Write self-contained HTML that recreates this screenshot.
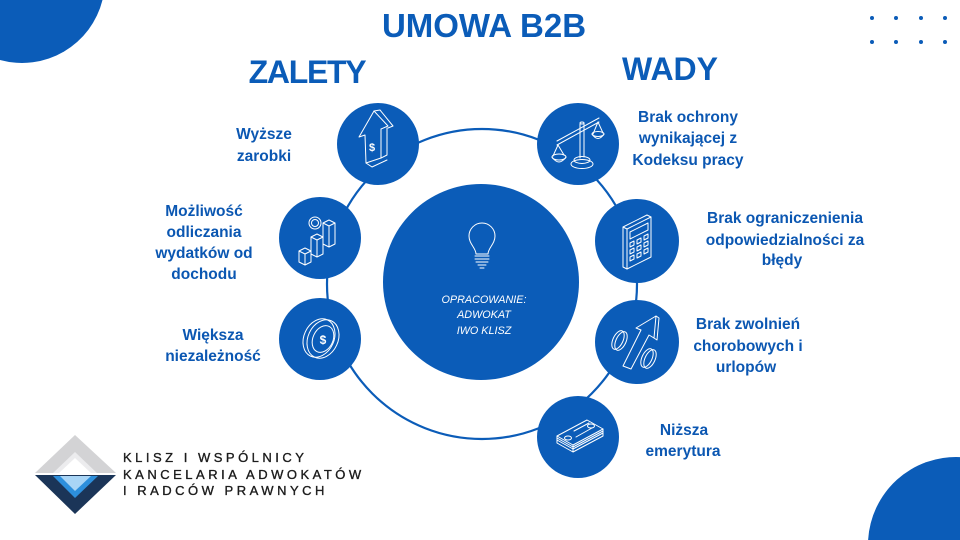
<!DOCTYPE html>
<html>
<head>
<meta charset="utf-8">
<style>
html,body{margin:0;padding:0;background:#fff;width:960px;height:540px;overflow:hidden;}
svg{display:block;position:absolute;left:0;top:0;}
.lbl{font-family:"Liberation Sans",sans-serif;font-weight:bold;font-size:15.5px;fill:#0b57b2;text-anchor:middle;}
.ic{fill:none;stroke:#fff;stroke-width:1;stroke-linejoin:round;stroke-linecap:round;}
</style>
</head>
<body>
<svg width="960" height="540" viewBox="0 0 960 540" xmlns="http://www.w3.org/2000/svg" overflow="hidden">
  <!-- corner circles (clipped to frame) -->
  <path d="M0,0 L102.5,0 A83,83 0 0 1 0,60 Z" fill="#0b5cb8"/>
  <path d="M868.1,540 A88,88 0 0 1 960,457.1 L960,540 Z" fill="#0b5cb8"/>
  <!-- dots -->
  <g fill="#0b5cb8">
    <circle cx="872" cy="18" r="2"/><circle cx="896" cy="18" r="2"/><circle cx="921" cy="18" r="2"/><circle cx="945" cy="18" r="2"/>
    <circle cx="872" cy="42" r="2"/><circle cx="896" cy="42" r="2"/><circle cx="921" cy="42" r="2"/><circle cx="945" cy="42" r="2"/>
  </g>

  <!-- titles -->
  <text x="484" y="37" font-family="Liberation Sans, sans-serif" font-weight="bold" font-size="33" fill="#0b5cb8" text-anchor="middle">UMOWA B2B</text>
  <text x="307" y="83" font-family="Liberation Sans, sans-serif" font-weight="bold" font-size="32" fill="#0b5cb8" text-anchor="middle" letter-spacing="-1.3">ZALETY</text>
  <text x="670" y="80" font-family="Liberation Sans, sans-serif" font-weight="bold" font-size="32" fill="#0b5cb8" text-anchor="middle">WADY</text>

  <!-- ring -->
  <circle cx="482" cy="284" r="155" fill="none" stroke="#0b5cb8" stroke-width="2.2"/>

  <!-- center circle -->
  <circle cx="481" cy="282" r="98" fill="#0b5cb8"/>
  <g class="ic" stroke-width="0.9">
    <path d="M476,254 C476,248 469,244 469,236 A13,13 0 1 1 495,236 C495,244 488,248 488,254 Z"/>
    <path d="M475,256 L489,256 M475,259 L489,259 M476,262 L488,262 M478,265 L486,265 M480,268 L484,268"/>
  </g>
  <g font-family="Liberation Sans, sans-serif" font-style="italic" font-size="10.8" fill="#fff" text-anchor="middle">
    <text x="484" y="303">OPRACOWANIE:</text>
    <text x="484" y="318">ADWOKAT</text>
    <text x="484" y="334">IWO KLISZ</text>
  </g>

  <!-- small circles -->
  <g fill="#0b5cb8">
    <circle cx="378" cy="144" r="41"/>
    <circle cx="320" cy="238" r="41"/>
    <circle cx="320" cy="339" r="41"/>
    <circle cx="578" cy="144" r="41"/>
    <circle cx="637" cy="241" r="42"/>
    <circle cx="637" cy="342" r="42"/>
    <circle cx="578" cy="437" r="41"/>
  </g>

  <!-- icon: arrow up with $ -->
  <g class="ic">
    <path d="M374,111 L359,137 L365,135 L366,163 L381,158 L381,129 L388,126 Z"/>
    <path d="M374,111 L380,110 L393,126 L388,128 M381,158 L387,155 L387,128 M366,163 L372,167 L387,160"/>
  </g>
  <text x="372" y="151" font-family="Liberation Sans, sans-serif" font-weight="bold" font-size="11" fill="#fff" text-anchor="middle">$</text>

  <!-- icon: chart bars with coin -->
  <g class="ic">
    <ellipse cx="315" cy="223" rx="6" ry="6"/>
    <ellipse cx="315" cy="223" rx="3.5" ry="3.5"/>
    <path d="M299,251 L305,248 L311,251 L311,262 L305,265 L299,262 Z M299,251 L305,254 L311,251 M305,254 L305,265"/>
    <path d="M311,237 L317,234 L323,237 L323,254 L317,257 L311,254 Z M311,237 L317,240 L323,237 M317,240 L317,257"/>
    <path d="M323,223 L329,220 L335,223 L335,244 L329,247 L323,244 Z M323,223 L329,226 L335,223 M329,226 L329,247"/>
  </g>

  <!-- icon: coin -->
  <g class="ic">
    <ellipse cx="319" cy="338" rx="15" ry="20" transform="rotate(25 319 338)"/>
    <ellipse cx="323" cy="339" rx="15" ry="20" transform="rotate(25 323 339)"/>
    <ellipse cx="323" cy="339" rx="10" ry="14" transform="rotate(25 323 339)"/>
  </g>
  <text x="323" y="344" font-family="Liberation Sans, sans-serif" font-weight="bold" font-size="12" fill="#fff" text-anchor="middle">$</text>

  <!-- icon: scale -->
  <g class="ic">
    <path d="M580,124 L580,158 M584,123 L584,157"/>
    <ellipse cx="582" cy="123" rx="2" ry="1"/>
    <ellipse cx="582" cy="160" rx="8" ry="3.5"/>
    <ellipse cx="582" cy="164" rx="11" ry="4.5"/>
    <path d="M557,141 L599,118 M557,145 L599,122"/>
    <path d="M558,145 L553,156 M558,145 L564,155 M598,122 L593,134 M598,122 L603,133"/>
    <ellipse cx="559" cy="157" rx="7" ry="3"/>
    <path d="M552,157 Q559,167 566,157"/>
    <ellipse cx="598" cy="134" rx="6" ry="2.5"/>
    <path d="M592,134 Q598,143 604,134"/>
  </g>

  <!-- icon: calculator -->
  <g class="ic">
    <path d="M627,229 L651,217 L651,257 L627,269 Z"/>
    <path d="M627,229 L623,227 L623,267 L627,269 M623,227 L647,215 L651,217"/>
    <path d="M630,232 L648,223 L648,230 L630,239 Z"/>
    <path d="M630,243 l4,-2 l0,4 l-4,2 Z M637,240 l4,-2 l0,4 l-4,2 Z M644,236 l4,-2 l0,4 l-4,2 Z"/>
    <path d="M630,250 l4,-2 l0,4 l-4,2 Z M637,247 l4,-2 l0,4 l-4,2 Z M644,243 l4,-2 l0,4 l-4,2 Z"/>
    <path d="M630,257 l4,-2 l0,4 l-4,2 Z M637,254 l4,-2 l0,4 l-4,2 Z M644,250 l4,-2 l0,4 l-4,2 Z"/>
  </g>

  <!-- icon: percent arrow -->
  <g class="ic">
    <path d="M623,366 L641,330 L636,328 L656,316 L654,338 L649,335 L631,369 Z"/>
    <path d="M656,316 L659,318 L657,340 L654,338"/>
    <ellipse cx="618" cy="340" rx="5" ry="10" transform="rotate(25 618 340)"/>
    <ellipse cx="621" cy="341" rx="5" ry="10" transform="rotate(25 621 341)"/>
    <ellipse cx="647" cy="358" rx="5" ry="10" transform="rotate(25 647 358)"/>
    <ellipse cx="650" cy="359" rx="5" ry="10" transform="rotate(25 650 359)"/>
  </g>

  <!-- icon: money stack -->
  <g class="ic">
    <path d="M557,436 L587,420 L603,429 L573,445 Z"/>
    <path d="M557,436 L557,443 L573,452 L603,436 L603,429 M573,445 L573,452"/>
    <path d="M557,438 L573,447 L603,431 M557,440 L573,449 L603,433"/>
    <path d="M574,431 L589,423 M576,437 L592,428"/>
    <ellipse cx="568" cy="438" rx="3.5" ry="2"/>
    <ellipse cx="591" cy="426" rx="3.5" ry="2"/>
  </g>

  <!-- labels left -->
  <text class="lbl" x="264" y="139">Wyższe</text>
  <text class="lbl" x="264" y="161">zarobki</text>

  <text class="lbl" x="204" y="216">Możliwość</text>
  <text class="lbl" x="204" y="237">odliczania</text>
  <text class="lbl" x="204" y="258">wydatków od</text>
  <text class="lbl" x="204" y="279">dochodu</text>

  <text class="lbl" x="213" y="340">Większa</text>
  <text class="lbl" x="213" y="361">niezależność</text>

  <!-- labels right -->
  <text class="lbl" x="688" y="122">Brak ochrony</text>
  <text class="lbl" x="688" y="143">wynikającej z</text>
  <text class="lbl" x="688" y="165">Kodeksu pracy</text>

  <text class="lbl" x="785" y="223">Brak ograniczenienia</text>
  <text class="lbl" x="785" y="245">odpowiedzialności za</text>
  <text class="lbl" x="782" y="265">błędy</text>

  <text class="lbl" x="748" y="329">Brak zwolnień</text>
  <text class="lbl" x="748" y="351">chorobowych i</text>
  <text class="lbl" x="746" y="372">urlopów</text>

  <text class="lbl" x="684" y="435">Niższa</text>
  <text class="lbl" x="683" y="456">emerytura</text>

  <!-- logo -->
  <g>
    <polygon points="75,435 116,473 35,473" fill="#d3d3d5"/>
    <polygon points="75,452 97,473 53,473" fill="#ececee"/>
    <polygon points="75,458 91,473 59,473" fill="#ffffff"/>
    <polygon points="35,475 116,475 75,514" fill="#1b3558"/>
    <polygon points="53,476 98,476 75,498" fill="#2d8fdc"/>
    <polygon points="60,476 91,476 75,491" fill="#a9d5f6"/>
  </g>
  <g font-family="Liberation Sans, sans-serif" font-size="13" fill="#1c1c1c" stroke="#1c1c1c" stroke-width="0.35" letter-spacing="3.5">
    <text x="123" y="462">KLISZ I WSPÓLNICY</text>
    <text x="123" y="479">KANCELARIA ADWOKATÓW</text>
    <text x="123" y="495">I RADCÓW PRAWNYCH</text>
  </g>
</svg>
</body>
</html>
